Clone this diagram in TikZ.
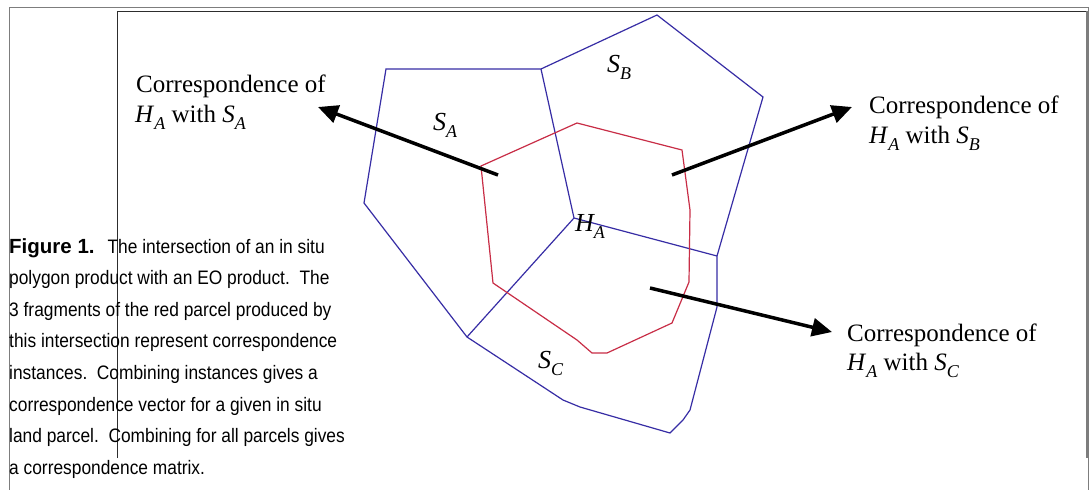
\documentclass[tikz,border=0pt]{standalone}
\usepackage{fontspec}
\setmainfont{Liberation Serif}
\newfontfamily\capfont{Liberation Sans}[FakeStretch=0.89]
\newfontfamily\capbfont{Liberation Sans}
\usetikzlibrary{arrows.meta}
\definecolor{polyblue}{RGB}{55,45,165}
\definecolor{parcelred}{RGB}{200,45,70}
\definecolor{framegray}{RGB}{125,125,125}
\definecolor{framedark}{RGB}{45,45,45}
\newcommand\sbs[1]{\raisebox{-0.28em}{\fontsize{18}{20}\selectfont #1}}
\begin{document}
\begin{tikzpicture}[x=1pt,y=-1pt,
  blueline/.style={draw=polyblue,line width=1.2pt,line join=miter},
  redline/.style={draw=parcelred,line width=1.2pt},
  arr/.style={draw=black,line width=3.5pt,-{Triangle[length=20pt,width=18pt]}},
  lbl/.style={anchor=base west,inner sep=0pt,font=\fontsize{25}{30}\selectfont},
  reg/.style={anchor=base west,inner sep=0pt,font=\fontsize{26}{30}\selectfont\itshape},
  captext/.style={anchor=base west,inner sep=0pt,font=\capfont\fontsize{19.5}{24}\selectfont},
  framestyle/.style={draw=#1,line width=1pt}]
\useasboundingbox[fill=white] (0,0) rectangle (1090,490);

% frames
\draw[framestyle=framegray] (9,490) -- (9,7.7) -- (1088.5,7.7) -- (1088.5,490);
\draw[framestyle=framedark] (117.3,458) -- (117.3,11.5) -- (1086,11.5) -- (1086,458);
\draw[draw=framegray,line width=2.5pt] (1087.3,11) -- (1087.3,458);

% EO polygons
\draw[blueline] (386,69) -- (541,69) -- (657,15) -- (763,97) -- (717,256) -- (717,307)
  -- (690,410) -- (683,420) -- (670,433) -- (580,407) -- (563,400) -- (467,337)
  -- (364,203) -- cycle;
\draw[blueline] (541,69) -- (574,218) -- (717,256);
\draw[blueline] (574,218) -- (467,337);

% in situ parcel
\draw[redline] (481,166) -- (577,123) -- (682,150) -- (690,210) -- (689,282) -- (672,323)
  -- (607,353) -- (592,353) -- (577,340) -- (493,283) -- cycle;

% region labels
\node[reg] (sa) at (433,130) {S\sbs{A}};
\node[reg] (sb) at (607,72) {S\sbs{B}};
\node[reg] (ha) at (575,231) {H\sbs{A}};
\node[reg] (sc) at (538,368) {S\sbs{C}};

% correspondence labels
\node[lbl] (l1a) at (136,92) {Correspondence of};
\node[lbl] (l1b) at (135,122) {\textit{H}\sbs{\textit{A}} with \textit{S}\sbs{\textit{A}}};
\node[lbl] (l2a) at (869,113) {Correspondence of};
\node[lbl] (l2b) at (869,143) {\textit{H}\sbs{\textit{A}} with \textit{S}\sbs{\textit{B}}};
\node[lbl] (l3a) at (847,341) {Correspondence of};
\node[lbl] (l3b) at (847,370) {\textit{H}\sbs{\textit{A}} with \textit{S}\sbs{\textit{C}}};

% arrows
\coordinate (t1) at (498,175);
\coordinate (h1) at (318,107);
\coordinate (t2) at (672,175);
\coordinate (h2) at (852,107);
\coordinate (t3) at (650,288);
\coordinate (h3) at (832,332);
\draw[arr] (t1) -- (h1);
\draw[arr] (t2) -- (h2);
\draw[arr] (t3) -- (h3);

% caption
\node[captext] (c1) at (9,253) {{\capbfont\bfseries\fontsize{20.5}{24}\selectfont Figure 1.}\hspace{13pt}The intersection of an in situ};
\node[captext] (c2) at (9,284.6) {polygon product with an EO product.\ \ The};
\node[captext] (c3) at (9,316.2) {3 fragments of the red parcel produced by};
\node[captext] (c4) at (9,347.8) {this intersection represent correspondence};
\node[captext] (c5) at (9,379.4) {instances.\ \ Combining instances gives a};
\node[captext] (c6) at (9,411) {correspondence vector for a given in situ};
\node[captext] (c7) at (9,442.6) {land parcel.\ \ Combining for all parcels gives};
\node[captext] (c8) at (9,474.2) {a correspondence matrix.};
\end{tikzpicture}
\end{document}
